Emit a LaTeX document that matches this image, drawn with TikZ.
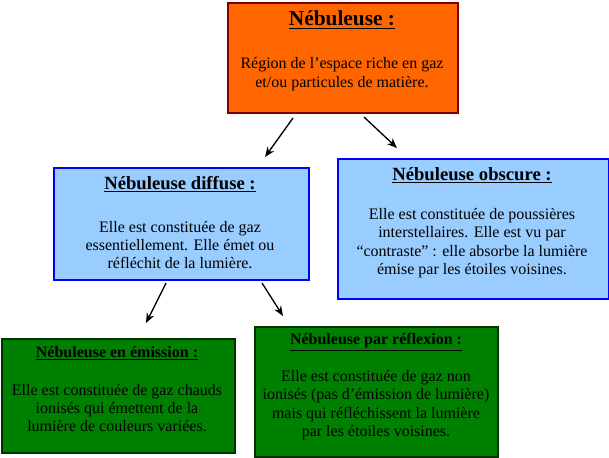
\documentclass[tikz,border=0pt]{standalone}
\usepackage{fontspec}
\setmainfont{Liberation Serif}
\usetikzlibrary{arrows.meta}
\definecolor{orfill}{HTML}{FF6600}
\definecolor{ordraw}{HTML}{800000}
\definecolor{blfill}{HTML}{99CCFF}
\definecolor{bldraw}{HTML}{0000FF}
\definecolor{grfill}{HTML}{008000}
\definecolor{grdraw}{HTML}{003300}
\newcommand{\ttl}[1]{\underline{\textbf{#1}}}
\tikzset{
  box/.style={draw, line width=1.3pt, inner sep=0pt, anchor=north west},
  obox/.style={box, fill=orfill, draw=ordraw},
  bbox/.style={box, fill=blfill, draw=bldraw},
  gbox/.style={box, fill=grfill, draw=grdraw},
  bigtitle/.style={inner sep=0pt, font=\fontsize{16pt}{18pt}\selectfont},
  midtitle/.style={inner sep=0pt, font=\fontsize{14pt}{16pt}\selectfont},
  smalltitle/.style={inner sep=0pt, font=\fontsize{12pt}{14pt}\selectfont},
  body/.style={inner sep=0pt, align=center, font=\fontsize{12pt}{13.8pt}\selectfont},
  arr/.style={line width=1pt, -{Stealth[length=7.5pt,width=6pt]}}
}
\begin{document}
\begin{tikzpicture}[x=0.75pt,y=-0.75pt]
\useasboundingbox (0,0) rectangle (609,457);
% boxes
\node[obox, minimum width=230*0.75pt, minimum height=110*0.75pt] (neb) at (227,2) {};
\node[bbox, minimum width=255*0.75pt, minimum height=112*0.75pt] (diff) at (53,167) {};
\node[bbox, minimum width=271*0.75pt, minimum height=140*0.75pt] (obsc) at (337,158) {};
\node[gbox, minimum width=233*0.75pt, minimum height=114*0.75pt] (emis) at (1,338) {};
\node[gbox, minimum width=243*0.75pt, minimum height=130*0.75pt] (refl) at (254,326) {};
% texts
\node[bigtitle] (nebt) at (342,20) {\ttl{Nébuleuse :}};
\node[body] (nebb) at (342,74) {Région de l’espace riche en gaz\\et/ou particules de matière.};
\node[midtitle] (difft) at (180,184) {\ttl{Nébuleuse diffuse :}};
\node[body] (diffb) at (180,245) {Elle est constituée de gaz\\essentiellement. Elle émet ou\\réfléchit de la lumière.};
\node[midtitle] (obsct) at (472,175) {\ttl{Nébuleuse obscure :}};
\node[body] (obscb) at (472,243) {Elle est constituée de poussières\\interstellaires. Elle est vu par\\“contraste” : elle absorbe la lumière\\émise par les étoiles voisines.};
\node[smalltitle] (emist) at (117,353) {\ttl{Nébuleuse en émission :}};
\node[body] (emisb) at (117,408) {Elle est constituée de gaz chauds\\ionisés qui émettent de la\\lumière de couleurs variées.};
\node[smalltitle] (reflt) at (376,342) {\ttl{Nébuleuse par réflexion :}};
\node[body] (reflb) at (376,405) {Elle est constituée de gaz non\\ionisés (pas d’émission de lumière)\\mais qui réfléchissent la lumière\\par les étoiles voisines.};
% arrows
\coordinate (a1s) at (293,118); \coordinate (a1e) at (265,157);
\coordinate (a2s) at (364,117); \coordinate (a2e) at (397,148);
\coordinate (a3s) at (166,283); \coordinate (a3e) at (146,323);
\coordinate (a4s) at (262,283); \coordinate (a4e) at (283,316);
\draw[arr] (a1s) -- (a1e);
\draw[arr] (a2s) -- (a2e);
\draw[arr] (a3s) -- (a3e);
\draw[arr] (a4s) -- (a4e);
\end{tikzpicture}
\end{document}
